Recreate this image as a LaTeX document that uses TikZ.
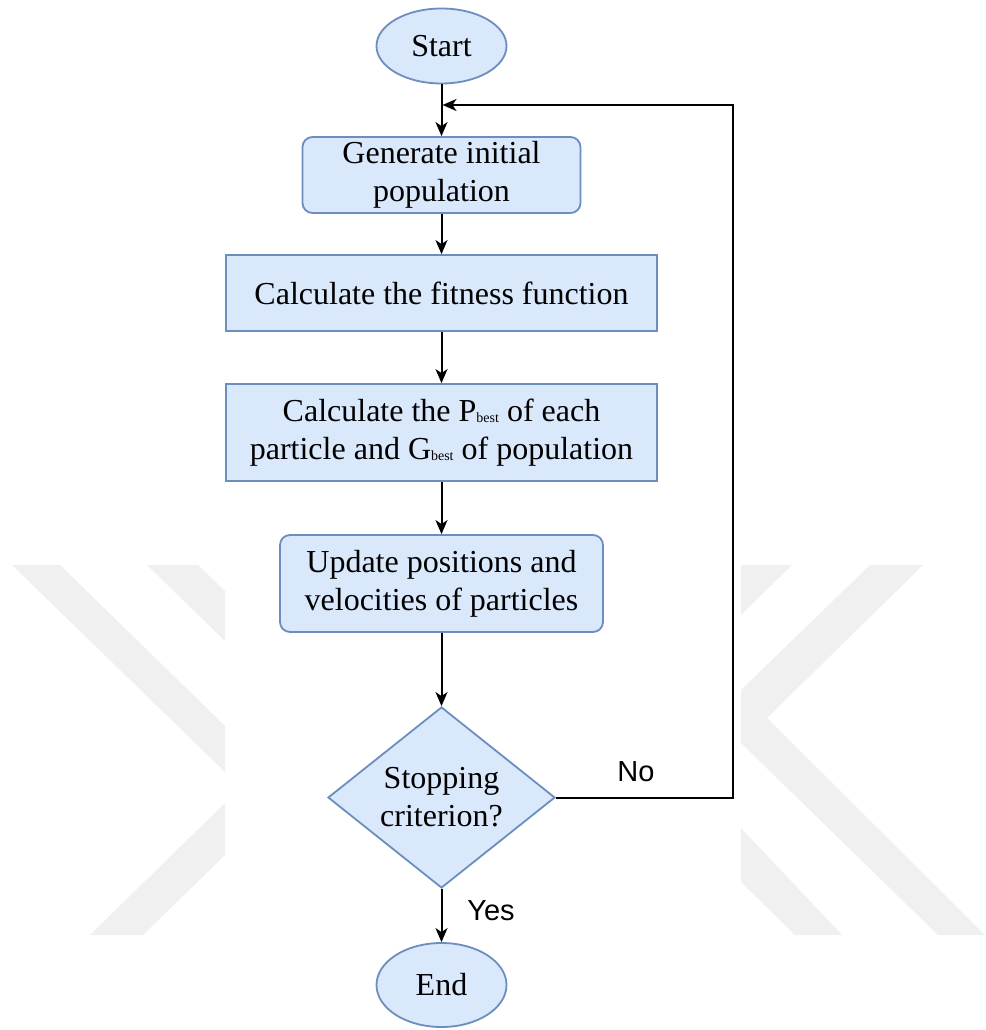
\documentclass[tikz,border=0pt]{standalone}
\usepackage{fontspec}
\setmainfont{Liberation Serif}
\newfontfamily\labelfont{Liberation Sans}
\usetikzlibrary{shapes.geometric,arrows.meta}

\definecolor{boxfill}{HTML}{DAE8FC}
\definecolor{boxline}{HTML}{6C8EBF}
\definecolor{wmark}{HTML}{F0F0F0}

% small subscript used in P_best and G_best
\newcommand{\bestsub}{\raisebox{-1.5pt}{\fontsize{14}{14}\selectfont best}}

\begin{document}
\begin{tikzpicture}[x=1pt,y=-1pt,
  every node/.style={font=\fontsize{32}{38}\selectfont},
  block/.style={draw=boxline, fill=boxfill, line width=1.8pt, align=center, inner sep=0pt},
  procbox/.style={block, rectangle},
  roundbox/.style={block, rectangle, rounded corners=10pt},
  terminal/.style={block, ellipse},
  decision/.style={block, diamond, aspect=1.25},
  flow/.style={line width=2pt, black, -{Stealth[length=14pt,width=12pt,inset=4pt]}},
  edgelabel/.style={font=\labelfont\fontsize{29}{34}\selectfont, inner sep=0pt},
  watermark/.style={fill=wmark, draw=none}]

\useasboundingbox (0,0) rectangle (985,1030);
\fill[white] (0,0) rectangle (985,1030);

% faint background emblem
\fill[watermark] (12,565) -- (60,565) -- (225,726) -- (225,772) -- cycle;
\fill[watermark] (147,565) -- (198,565) -- (225,591) -- (225,641) -- cycle;
\fill[watermark] (90,935) -- (143,935) -- (225,855) -- (225,803) -- cycle;
\fill[watermark] (741,565) -- (792,565) -- (741,615) -- cycle;
\fill[watermark] (870,565) -- (923,565) -- (767,718) -- (985,935) -- (938,935)
  -- (741,743) -- (741,690) -- cycle;
\fill[watermark] (741,828) -- (842,935) -- (795,935) -- (741,882) -- cycle;

% flowchart nodes
\node[terminal, minimum width=130pt, minimum height=75pt] (start) at (441.5,46) {Start};
\node[roundbox, minimum width=278pt, minimum height=76pt] (gen) at (441.5,175)
  {Generate initial\\population};
\node[procbox, minimum width=431pt, minimum height=76pt] (fit) at (441.5,293)
  {Calculate the fitness function};
\node[procbox, minimum width=431pt, minimum height=97pt] (best) at (441.5,432.5)
  {Calculate the P\bestsub{} of each\\particle and G\bestsub{} of population};
\node[roundbox, minimum width=323pt, minimum height=97pt] (upd) at (441.5,583.5)
  {Update positions and\\velocities of particles};
\node[decision, minimum width=227pt, minimum height=181pt] (stop) at (441.5,797.5)
  {Stopping\\criterion?};
\node[terminal, minimum width=130pt, minimum height=84pt] (end) at (441.5,985) {End};

% connectors
\draw[flow] (start) -- (gen);
\draw[flow] (gen) -- (fit);
\draw[flow] (fit) -- (best);
\draw[flow] (best) -- (upd);
\draw[flow] (upd) -- (stop);
\draw[flow] (stop) -- (end);

\coordinate (loopcorner) at (733,105);
\coordinate (merge) at (442.5,105);
\draw[flow] (stop.east) -| (loopcorner) -- (merge);

% branch labels
\node[edgelabel] (nolabel) at (636,772) {No};
\node[edgelabel] (yeslabel) at (491,911) {Yes};
\end{tikzpicture}
\end{document}
